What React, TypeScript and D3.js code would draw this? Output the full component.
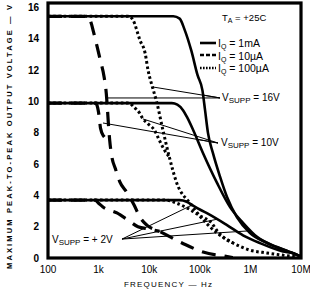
import * as d3 from 'd3';

type Pt = [number, number]; // [frequency Hz, volts p-p]

const X_TICKS = [100, 1e3, 1e4, 1e5, 1e6, 1e7];
const X_TICK_LABELS = ['100', '1k', '10k', '100k', '1M', '10M'];
const Y_TICKS = [0, 2, 4, 6, 8, 10, 12, 14, 16];

// I_Q = 1mA (solid)
const SOLID_16: Pt[] = [[100, 15.45], [30000, 15.45], [40000, 15.3], [50000, 14.6], [68000, 13.25], [90000, 11.7], [113000, 10.7], [127000, 9.45], [145000, 8.0], [182000, 6.7], [251000, 5.2], [345000, 3.9], [544000, 2.6], [982000, 1.6], [2130000, 0.96], [7000000, 0.3], [9500000, 0.12]];
const SOLID_10: Pt[] = [[100, 9.9], [28000, 9.9], [36000, 9.8], [46600, 9.45], [56000, 9.0], [73500, 8.2], [116000, 6.7], [219000, 4.8], [396000, 3.25], [714000, 2.25], [1350000, 1.35], [3360000, 0.7], [7000000, 0.3], [9500000, 0.12]];
const SOLID_2: Pt[] = [[100, 3.7], [40000, 3.7], [55000, 3.6], [73500, 3.35], [100000, 3.1], [150000, 2.8], [345000, 2.1], [714000, 1.45], [1550000, 0.95], [4400000, 0.42], [7000000, 0.3], [9500000, 0.12]];

// I_Q = 100uA (dotted)
const DOT_16: Pt[] = [[100, 15.45], [4000, 15.45], [4800, 15.2], [6600, 13.9], [8300, 13.1], [9500, 12.0], [11900, 10.8], [14000, 10.0], [18300, 8.3], [25000, 6.45], [35000, 4.8], [64000, 3.5], [116000, 2.45], [219000, 1.6], [453000, 0.96], [982000, 0.5], [2130000, 0.32], [4410000, 0.18], [8000000, 0.08]];
const DOT_10: Pt[] = [[100, 9.9], [4000, 9.9], [5000, 9.65], [6500, 9.25], [7500, 8.9], [9300, 8.6], [12800, 8.15], [16000, 7.5], [20000, 6.9], [25000, 6.45]];
const DOT_2: Pt[] = [[100, 3.7], [22000, 3.7], [35000, 3.5], [60000, 3.15], [100000, 2.7], [175000, 2.2], [219000, 1.75], [300000, 1.3], [453000, 0.96]];

// I_Q = 10uA (dashed)
const DASH_16: Pt[] = [[100, 15.45], [600, 15.45], [700, 15.1], [800, 14.4], [920, 13.6], [1090, 12.6], [1280, 11.6], [1420, 10.5], [1490, 9.6], [1560, 8.6], [1660, 7.5], [1820, 6.5], [2150, 5.7], [2600, 4.9], [3600, 4.2], [5000, 3.4], [6600, 2.6], [9000, 2.1], [16000, 1.7], [44500, 0.96], [116000, 0.38], [330000, 0.1], [450000, 0.03]];
const DASH_10: Pt[] = [[100, 9.9], [870, 9.9], [960, 9.6], [1030, 9.0], [1090, 8.3], [1250, 7.8], [1660, 7.5]];
const DASH_2: Pt[] = [[100, 3.7], [850, 3.7], [1000, 3.5], [1220, 3.26], [2300, 2.88], [3800, 2.43], [6000, 2.0], [10000, 1.85], [16000, 1.7]];

// callout leaders: anchor point at the label, then the curve points they reach
const LEAD_16_AT: Pt = [251000, 10.23];
const LEAD_16: Pt[] = [[1480, 10.23], [11900, 10.93], [116000, 10.42]];
const LEAD_10_AT: Pt = [229000, 7.35];
const LEAD_10: Pt[] = [[1220, 8.63], [7500, 8.89], [84000, 7.6]];
const LEAD_2_AT: Pt = [2900, 1.21];
const LEAD_2: Pt[] = [[64000, 3.32], [229000, 2.49], [898000, 1.73]];

const FONT = '"Liberation Sans", Arial, sans-serif';

export default function App() {
  const width = 310;
  const height = 293;
  const left = 48, right = 301, top = 3, bottom = 258;

  const x = d3.scaleLog().domain([100, 1e7]).range([left, right]);
  const y = d3.scaleLinear().domain([0, 16.3]).range([bottom, top]);

  const line = d3.line<Pt>().x(d => x(d[0])).y(d => y(d[1])).curve(d3.curveMonotoneX);

  const solid = [SOLID_16, SOLID_10, SOLID_2];
  const dotted = [DOT_16, DOT_10, DOT_2];
  const dashed = [DASH_16, DASH_10, DASH_2];

  const leaders: [Pt, Pt[]][] = [[LEAD_16_AT, LEAD_16], [LEAD_10_AT, LEAD_10], [LEAD_2_AT, LEAD_2]];

  const supplyLabel = (px: number, py: number, value: string) => (
    <text x={px} y={py} fontSize={10} fontFamily={FONT} fill="#000">
      V<tspan fontSize={8} dy={2}>SUPP</tspan>
      <tspan dy={-2}>{` = ${value}`}</tspan>
    </text>
  );

  return (
    <svg width={width} height={height} style={{ position: 'fixed', left: 0, top: 0, background: '#fff' }}>
      <rect width={width} height={height} fill="#fff" />

      {/* curves */}
      {solid.map((d, i) => (
        <path key={'s' + i} d={line(d)!} fill="none" stroke="#000" strokeWidth={2.6} />
      ))}
      {dotted.map((d, i) => (
        <path key={'o' + i} d={line(d)!} fill="none" stroke="#000" strokeWidth={3} strokeDasharray="2.6,2.6" />
      ))}
      {dashed.map((d, i) => (
        <path key={'d' + i} d={line(d)!} fill="none" stroke="#000" strokeWidth={3.2} strokeDasharray="14,9" />
      ))}

      {/* leaders */}
      {leaders.map(([at, pts], i) =>
        pts.map((p, j) => (
          <line key={`l${i}-${j}`} x1={x(at[0])} y1={y(at[1])} x2={x(p[0])} y2={y(p[1])} stroke="#000" strokeWidth={1} />
        ))
      )}

      {/* frame */}
      <rect x={left} y={top} width={right - left} height={bottom - top} fill="none" stroke="#000" strokeWidth={3.2} />

      {/* y ticks */}
      {Y_TICKS.map(t => (
        <text key={'y' + t} x={39} y={y(t) + 3.5} textAnchor="end" fontSize={10} fontWeight="bold" fontFamily={FONT}>{t}</text>
      ))}
      {/* x ticks */}
      {X_TICKS.map((t, i) => (
        <text key={'x' + t} x={x(t)} y={273} textAnchor="middle" fontSize={10} fontFamily={FONT}>{X_TICK_LABELS[i]}</text>
      ))}

      <text x={168} y={287} textAnchor="middle" fontSize={8} fontFamily={FONT} textLength={88} lengthAdjust="spacing">FREQUENCY — Hz</text>
      <text transform="translate(12,137) rotate(-90)" textAnchor="middle" fontSize={7.5} fontWeight="bold" fontFamily={FONT} textLength={264} lengthAdjust="spacing">MAXIMUM PEAK-TO-PEAK OUTPUT VOLTAGE — V</text>

      {/* legend */}
      <text x={222} y={21} fontSize={9.5} fontFamily={FONT}>T<tspan fontSize={7} dy={2}>A</tspan><tspan dy={-2}> = +25C</tspan></text>
      <line x1={200} x2={216} y1={43} y2={43} stroke="#000" strokeWidth={2.6} />
      <line x1={200} x2={216} y1={55} y2={55} stroke="#000" strokeWidth={2.6} strokeDasharray="4,2" />
      <line x1={200} x2={216} y1={68} y2={68} stroke="#000" strokeWidth={2.6} strokeDasharray="1.6,1.4" />
      {['1mA', '10µA', '100µA'].map((s, i) => (
        <text key={s} x={218} y={47 + i * 12.5} fontSize={10.5} fontFamily={FONT}>I<tspan fontSize={7} dy={2}>Q</tspan><tspan dy={-2}>{` = ${s}`}</tspan></text>
      ))}

      {supplyLabel(x(LEAD_16_AT[0]) + 2, y(LEAD_16_AT[1]) + 3, '16V')}
      {supplyLabel(x(LEAD_10_AT[0]) + 3, y(LEAD_10_AT[1]) + 3, '10V')}
      {supplyLabel(52, y(LEAD_2_AT[1]) + 4, '+ 2V')}
    </svg>
  );
}
